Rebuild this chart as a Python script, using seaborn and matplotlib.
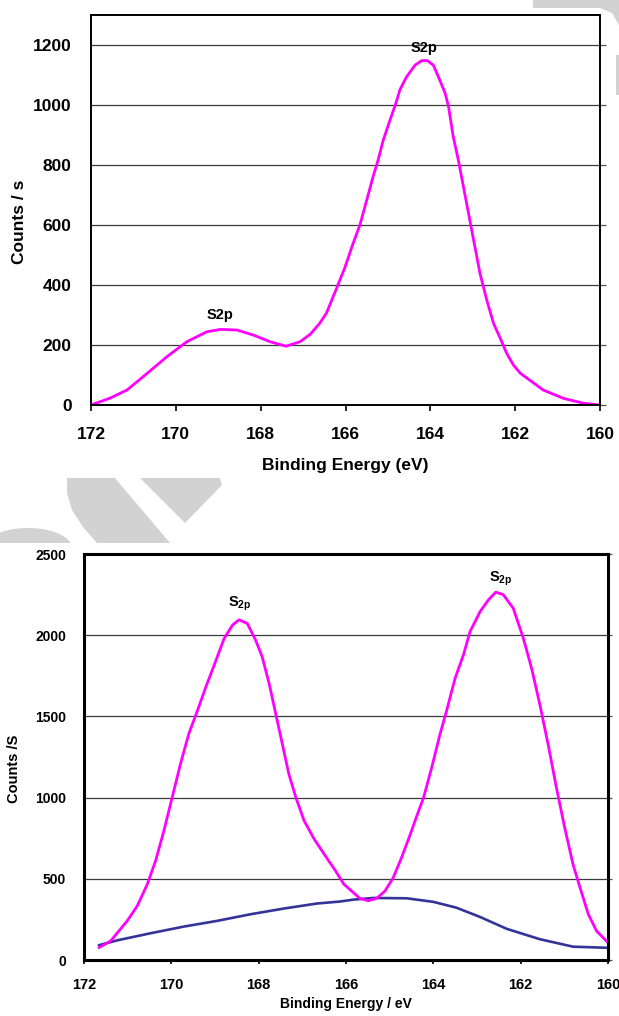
import matplotlib
matplotlib.use("Agg")
import matplotlib.pyplot as plt
from matplotlib.patches import Polygon
import numpy as np
import pandas as pd
import seaborn as sns

# --- data ---
# top spectrum (S2p)
energy_top = [172.0, 171.55, 171.15, 170.68, 170.21, 169.74, 169.27, 168.95, 168.56, 168.17,
              167.78, 167.40, 167.07, 166.83, 166.61, 166.45, 166.21, 166.02, 165.82, 165.66,
              165.50, 165.35, 165.23, 165.11, 164.95, 164.80, 164.72, 164.56, 164.36, 164.20,
              164.07, 163.93, 163.81, 163.65, 163.57, 163.46, 163.34, 163.22, 163.10, 162.98,
              162.83, 162.67, 162.51, 162.35, 162.20, 162.04, 161.88, 161.34, 160.86, 160.39,
              160.0]
counts_top = [0, 23, 50, 105, 161, 211, 244, 252, 250, 233,
              211, 196, 211, 236, 272, 306, 389, 456, 539, 600,
              683, 761, 817, 883, 950, 1011, 1050, 1094, 1133, 1148,
              1148, 1133, 1094, 1039, 994, 894, 817, 728, 639, 550,
              439, 350, 272, 222, 172, 133, 106, 50, 22, 6,
              0]

# bottom spectrum (two S2p peaks)
energy_bot = [171.66, 171.39, 171.01, 170.78, 170.55, 170.36, 170.17, 169.98, 169.79, 169.60,
              169.40, 169.21, 169.02, 168.79, 168.60, 168.45, 168.26, 168.07, 167.92, 167.76,
              167.61, 167.46, 167.31, 167.15, 166.96, 166.73, 166.50, 166.24, 166.05, 165.91,
              165.68, 165.49, 165.30, 165.11, 164.92, 164.73, 164.53, 164.34, 164.23, 164.04,
              163.85, 163.70, 163.50, 163.31, 163.16, 162.93, 162.74, 162.57, 162.40, 162.17,
              161.94, 161.75, 161.56, 161.37, 161.18, 160.99, 160.80, 160.64, 160.45, 160.26,
              160.0]
counts_bot = [76, 117, 241, 333, 467, 611, 796, 1002, 1208, 1393,
              1537, 1681, 1815, 1980, 2062, 2095, 2072, 1970, 1867, 1702,
              1517, 1332, 1146, 1002, 858, 745, 652, 549, 467, 434,
              379, 365, 379, 424, 506, 629, 772, 916, 994, 1182,
              1387, 1531, 1736, 1879, 2022, 2145, 2217, 2265, 2250, 2166,
              1982, 1797, 1572, 1326, 1059, 813, 588, 445, 281, 178,
              107]

# background under the bottom spectrum
energy_bg = [171.66, 171.24, 170.47, 169.71, 168.95, 168.18, 167.42, 166.66, 166.14, 165.82,
             165.37, 164.61, 164.00, 163.47, 162.93, 162.32, 161.56, 160.80, 160.0]
counts_bg = [91, 121, 165, 206, 241, 282, 317, 348, 360, 372,
             382, 380, 358, 322, 265, 192, 128, 82, 75]

peaks_top = [(168.96, 300), (164.14, 1190)]
peaks_bot = [(168.44, 2196), (162.45, 2350)]

sns.set_theme(style="white")
plt.rcParams['font.family'] = ['Liberation Sans', 'DejaVu Sans']
plt.rcParams['font.weight'] = 'bold'
plt.rcParams['text.color'] = 'black'
plt.rcParams['axes.labelcolor'] = 'black'
plt.rcParams['mathtext.fontset'] = 'custom'
plt.rcParams['mathtext.rm'] = 'Liberation Sans:bold'
plt.rcParams['mathtext.bf'] = 'Liberation Sans:bold'

W, H = 619, 1016
fig = plt.figure(figsize=(W / 100, H / 100), dpi=100)

# faint watermark shapes behind the charts (pixel coords from top-left)
def px(pts):
    return [(x / W, 1 - y / H) for x, y in pts]

wm = '#d2d2d2'
t = np.linspace(np.pi, 0, 40)
dome = [(28 + 44 * np.cos(a), min(548 - 20 * np.sin(a), 543)) for a in t]
shapes = [
    dome,
    [(67, 478), (115, 478), (170, 543), (97, 543), (83, 527), (72, 510), (67, 493)],
    [(140, 478), (220, 478), (222, 485), (185, 523)],
    [(533, 0), (619, 0), (619, 25), (612, 13), (600, 8), (533, 8)],
    [(616, 55), (619, 55), (619, 95), (616, 95)],
]
for s in shapes:
    fig.patches.append(Polygon(px(s), closed=True, transform=fig.transFigure,
                               facecolor=wm, edgecolor='none', zorder=0))

# ---------------- top chart ----------------
ax1 = fig.add_axes([91 / W, 1 - 405 / H, 509 / W, 390 / H])
ax1.patch.set_alpha(0)
df_top = pd.DataFrame({'E': energy_top, 'C': counts_top})
sns.lineplot(data=df_top, x='E', y='C', ax=ax1, color='#FF00FF', lw=2.0)
ax1.set_xlim(172, 160)
ax1.set_ylim(0, 1300)
ax1.set_xticks(range(172, 159, -2))
ax1.set_yticks(range(0, 1201, 200))
ax1.yaxis.grid(True, color='#3a3a3a', lw=0.9)
ax1.xaxis.grid(False)
for sp in ax1.spines.values():
    sp.set_color('black')
    sp.set_linewidth(1.4)
ax1.tick_params(axis='y', left=False, right=True, labelleft=True, labelright=False,
                length=4, width=0.9, color='#555555', labelcolor='black', pad=10, labelsize=12.5)
ax1.tick_params(axis='x', bottom=True, direction='out', length=4, width=1.2,
                color='black', labelcolor='black', pad=12, labelsize=12.5)
ax1.set_xlabel('Binding Energy (eV)', fontsize=12.5, fontweight='bold')
ax1.set_ylabel('Counts / s', fontsize=12.5, fontweight='bold')
ax1.xaxis.set_label_coords(0.5, -0.135)
ax1.yaxis.set_label_coords(-0.125, 0.47)
for e, c in peaks_top:
    ax1.text(e, c, 'S2p', ha='center', va='center', fontsize=10.5, fontweight='bold')

# ---------------- bottom chart ----------------
ax2 = fig.add_axes([84 / W, 1 - 960 / H, 524 / W, 406 / H])
ax2.patch.set_alpha(0)
df_bot = pd.DataFrame({'E': energy_bot, 'C': counts_bot})
df_bg = pd.DataFrame({'E': energy_bg, 'C': counts_bg})
sns.lineplot(data=df_bg, x='E', y='C', ax=ax2, color='#333399', lw=1.9)
sns.lineplot(data=df_bot, x='E', y='C', ax=ax2, color='#FF00FF', lw=2.0)
ax2.set_xlim(172, 160)
ax2.set_ylim(0, 2500)
ax2.set_xticks(range(172, 159, -2))
ax2.set_yticks(range(0, 2501, 500))
ax2.yaxis.grid(True, color='#3a3a3a', lw=0.9)
ax2.xaxis.grid(False)
for sp in ax2.spines.values():
    sp.set_color('black')
    sp.set_linewidth(2.2)
ax2.tick_params(axis='y', left=False, right=True, labelleft=True, labelright=False,
                length=3, width=0.9, color='#555555', labelcolor='black', pad=10, labelsize=10)
ax2.tick_params(axis='x', bottom=True, direction='out', length=3, width=1.2,
                color='black', labelcolor='black', pad=10, labelsize=10.5)
ax2.set_xlabel('Binding Energy / eV', fontsize=10, fontweight='bold')
ax2.set_ylabel('Counts /S', fontsize=10.5, fontweight='bold')
ax2.xaxis.set_label_coords(0.5, -0.092)
ax2.yaxis.set_label_coords(-0.12, 0.47)
for e, c in peaks_bot:
    ax2.text(e, c, r'S$_{\mathbf{2p}}$', ha='center', va='center', fontsize=10.5)

fig.savefig('out.png', dpi=100)
